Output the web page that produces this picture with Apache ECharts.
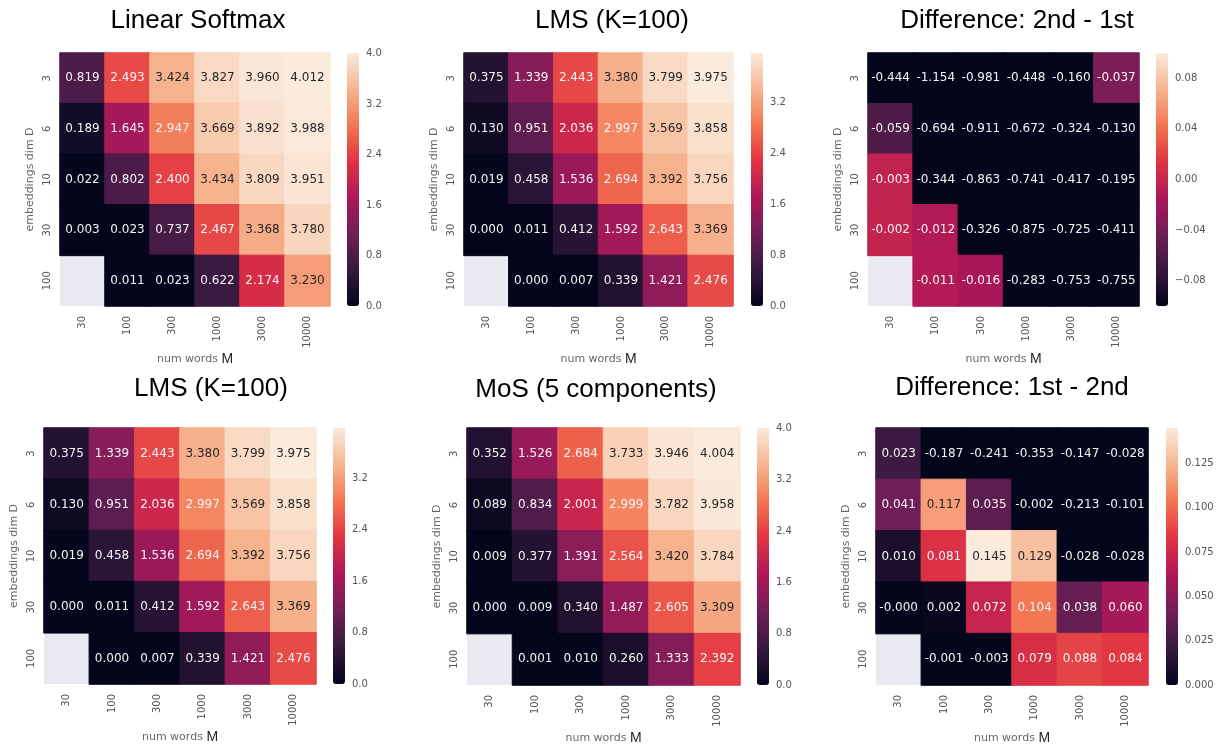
<!DOCTYPE html>
<html>
<head>
<meta charset="utf-8">
<script src="https://cdn.jsdelivr.net/npm/echarts@6/dist/echarts.min.js"></script>
<style>
html,body{margin:0;padding:0;background:#fff;}
#chart{width:1222px;height:747px;}
</style>
</head>
<body>
<div id="chart"></div>
<script>
// ---- data ----
const rowsD = ['3', '6', '10', '30', '100'];
const colsM = ['30', '100', '300', '1000', '3000', '10000'];

const linearSoftmax = [
  [0.819, 2.493, 3.424, 3.827, 3.960, 4.012],
  [0.189, 1.645, 2.947, 3.669, 3.892, 3.988],
  [0.022, 0.802, 2.400, 3.434, 3.809, 3.951],
  [0.003, 0.023, 0.737, 2.467, 3.368, 3.780],
  [null, 0.011, 0.023, 0.622, 2.174, 3.230]
];
const lms100 = [
  [0.375, 1.339, 2.443, 3.380, 3.799, 3.975],
  [0.130, 0.951, 2.036, 2.997, 3.569, 3.858],
  [0.019, 0.458, 1.536, 2.694, 3.392, 3.756],
  [0.000, 0.011, 0.412, 1.592, 2.643, 3.369],
  [null, 0.000, 0.007, 0.339, 1.421, 2.476]
];
const diff2minus1 = [
  [-0.444, -1.154, -0.981, -0.448, -0.160, -0.037],
  [-0.059, -0.694, -0.911, -0.672, -0.324, -0.130],
  [-0.003, -0.344, -0.863, -0.741, -0.417, -0.195],
  [-0.002, -0.012, -0.326, -0.875, -0.725, -0.411],
  [null, -0.011, -0.016, -0.283, -0.753, -0.755]
];
const mos5 = [
  [0.352, 1.526, 2.684, 3.733, 3.946, 4.004],
  [0.089, 0.834, 2.001, 2.999, 3.782, 3.958],
  [0.009, 0.377, 1.391, 2.564, 3.420, 3.784],
  [0.000, 0.009, 0.340, 1.487, 2.605, 3.309],
  [null, 0.001, 0.010, 0.260, 1.333, 2.392]
];
const diff1minus2 = [
  [0.023, -0.187, -0.241, -0.353, -0.147, -0.028],
  [0.041, 0.117, 0.035, -0.002, -0.213, -0.101],
  [0.010, 0.081, 0.145, 0.129, -0.028, -0.028],
  [-0.0002, 0.002, 0.072, 0.104, 0.038, 0.060],
  [null, -0.001, -0.003, 0.079, 0.088, 0.084]
];

const titles = ['Linear Softmax', 'LMS (K=100)', 'Difference: 2nd - 1st',
                'LMS (K=100)', 'MoS (5 components)', 'Difference: 1st - 2nd'];
const panelData = [linearSoftmax, lms100, diff2minus1, lms100, mos5, diff1minus2];
const colorMin = [0, 0, -0.1, 0, 0, 0];
const colorMax = [4.012, 3.975, 0.1, 3.975, 4.004, 0.145];
const ticks04 = [0, 0.8, 1.6, 2.4, 3.2, 4.0];
const ticks32 = [0, 0.8, 1.6, 2.4, 3.2];
const ticksDiffA = [-0.08, -0.04, 0, 0.04, 0.08];
const ticksDiffB = [0, 0.025, 0.05, 0.075, 0.1, 0.125];
const colorbarTicks = [ticks04, ticks32, ticksDiffA, ticks32, ticks04, ticksDiffB];
const tickDecimals = [1, 1, 2, 1, 1, 3];

// ---- layout / style ----
const rocket = ['#03051A', '#35193E', '#701F57', '#AD1759', '#E13342', '#F37651', '#F6B48F', '#FAEBDD'];
const grids = [
  {left: 60, top: 53, width: 270, height: 253, cb: 347, tx: 193, ty: 3},
  {left: 464, top: 53, width: 269, height: 253, cb: 751, tx: 607, ty: 3},
  {left: 868, top: 53, width: 271, height: 253, cb: 1156, tx: 1012, ty: 3},
  {left: 44, top: 428, width: 272, height: 256, cb: 333, tx: 206, ty: 371},
  {left: 467, top: 428, width: 273, height: 257, cb: 757, tx: 591, ty: 372},
  {left: 876, top: 428, width: 272, height: 257, cb: 1166, tx: 1007, ty: 370}
];
const FONT = 'DejaVu Sans';

function hexToRgb(h) {
  return [parseInt(h.slice(1, 3), 16), parseInt(h.slice(3, 5), 16), parseInt(h.slice(5, 7), 16)];
}
function rocketAt(f) {
  const n = rocket.length - 1;
  const p = Math.max(0, Math.min(1, f)) * n;
  const k = Math.min(n - 1, Math.floor(p));
  const t = p - k;
  const a = hexToRgb(rocket[k]), b = hexToRgb(rocket[k + 1]);
  const c = a.map((x, j) => Math.round(x + (b[j] - x) * t));
  return 'rgb(' + c.join(',') + ')';
}

const option = {
  animation: false,
  backgroundColor: '#ffffff',
  title: [], grid: [], xAxis: [], yAxis: [], visualMap: [], series: []
};

grids.forEach((g, i) => {
  option.title.push({
    text: titles[i], left: g.tx, top: g.ty, textAlign: 'center',
    textStyle: {fontFamily: 'Liberation Sans', fontSize: 26, fontWeight: 'normal', color: '#000'}
  });
  option.grid.push({left: g.left, top: g.top, width: g.width, height: g.height,
    show: true, backgroundColor: '#EAEAF2', borderWidth: 0});
  option.xAxis.push({
    type: 'category', gridIndex: i, data: colsM,
    axisLine: {show: false}, axisTick: {show: false}, splitLine: {show: false},
    axisLabel: {rotate: 90, fontSize: 10, color: '#555', margin: 10, fontFamily: FONT},
    name: 'num words {m|M}', nameLocation: 'middle', nameGap: 45,
    nameTextStyle: {fontSize: 11, color: '#666', fontFamily: FONT,
      rich: {m: {fontSize: 14, color: '#222', fontFamily: 'Liberation Sans'}}}
  });
  option.yAxis.push({
    type: 'category', gridIndex: i, data: rowsD, inverse: true,
    axisLine: {show: false}, axisTick: {show: false}, splitLine: {show: false},
    axisLabel: {rotate: 90, fontSize: 10, color: '#555', margin: 8, fontFamily: FONT},
    name: 'embeddings dim D', nameLocation: 'middle', nameRotate: 90, nameGap: 24,
    nameTextStyle: {fontSize: 11, color: '#666', fontFamily: FONT}
  });
  const vmin = colorMin[i], vmax = colorMax[i];
  const rows = panelData[i];
  const data = [];
  rows.forEach((row, r) => {
    row.forEach((v, c) => {
      if (v === null) return;
      const cv = Math.max(vmin, Math.min(vmax, v));
      const frac = (cv - vmin) / (vmax - vmin);
      data.push({
        value: [c, r, cv, v],
        itemStyle: {borderColor: rocketAt(frac), borderWidth: 1},
        label: {color: frac > 0.78 ? '#262626' : '#f4f4f4'}
      });
    });
  });
  option.series.push({
    type: 'heatmap', xAxisIndex: i, yAxisIndex: i, data: data,
    label: {show: true, fontSize: 12, fontFamily: FONT,
      formatter: p => p.value[3].toFixed(3)},
    emphasis: {disabled: true}, progressive: 0
  });
  option.visualMap.push({
    type: 'continuous', seriesIndex: i, dimension: 2, min: vmin, max: vmax,
    calculable: false, orient: 'vertical', left: g.cb, top: g.top,
    itemWidth: 12, itemHeight: g.height, padding: 0, text: null,
    inRange: {color: rocket}, hoverLink: false
  });
});

// colorbar tick axes
grids.forEach((g, i) => {
  const gi = grids.length + i;
  const dec = tickDecimals[i];
  option.grid.push({left: g.cb, top: g.top, width: 12, height: g.height, show: false});
  option.xAxis.push({type: 'value', gridIndex: gi, show: false, min: 0, max: 1});
  option.yAxis.push({
    type: 'value', gridIndex: gi, min: colorMin[i], max: colorMax[i], position: 'right',
    axisLine: {show: false}, axisTick: {show: false}, splitLine: {show: false},
    axisLabel: {customValues: colorbarTicks[i], fontSize: 10, color: '#555', margin: 7,
      fontFamily: FONT,
      formatter: v => (v < -1e-9 ? '\u2212' : '') + Math.abs(v).toFixed(dec)}
  });
});

const chart = echarts.init(document.getElementById('chart'), null, {renderer: 'canvas'});
chart.setOption(option);
</script>
</body>
</html>
